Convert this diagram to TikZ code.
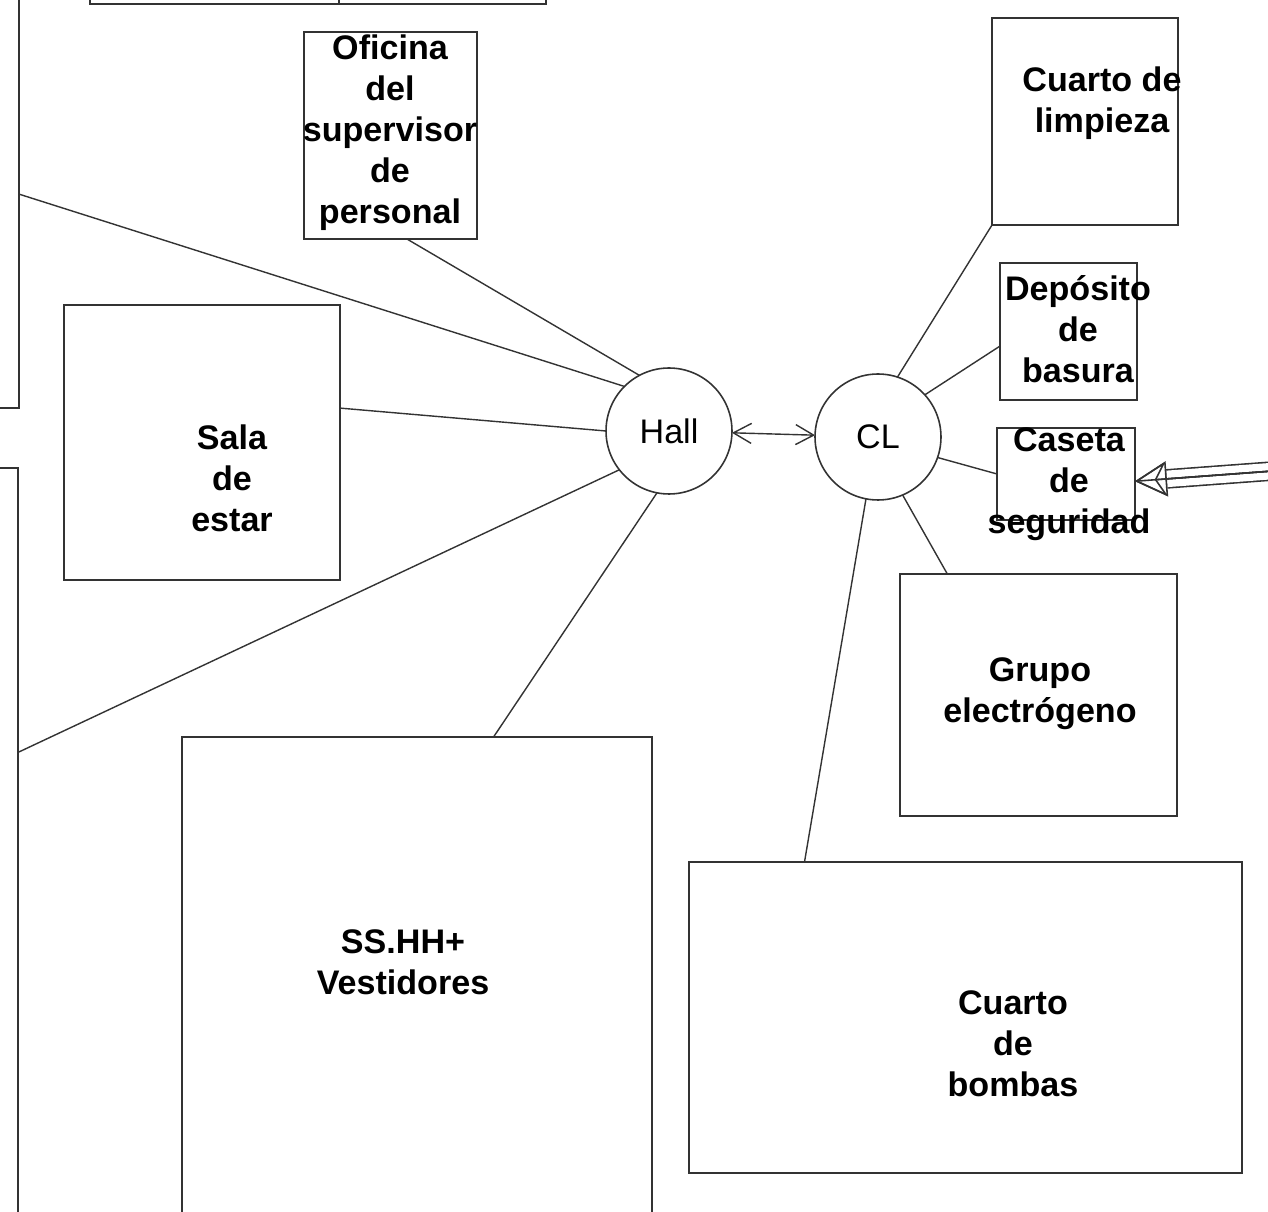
\documentclass[tikz,border=0pt]{standalone}
\usepackage{fontspec}
\setmainfont{Liberation Sans}
\usetikzlibrary{arrows.meta}
\tikzset{
room/.style={draw=black!80, line width=0.9pt, inner sep=0pt, outer sep=0pt}, % every space is a plain rectangle
hub/.style={draw=black!80, line width=0.9pt, circle, minimum size=2.52cm, inner sep=0pt, outer sep=0pt, font=\fontsize{19.4}{23}\selectfont},
rotulo/.style={align=center, inner sep=0pt, font=\bfseries\fontsize{19.4}{23.3}\selectfont},
link/.style={draw=black!80, line width=0.8pt},
}

\begin{document}
\begin{tikzpicture}[x=0.02cm, y=-0.02cm]
    \useasboundingbox (0,0) rectangle (1268,1212);
    \clip (0,0) rectangle (1268,1212);

    % spaces cut by the edge of the sheet
    \node[room, minimum width=2.38cm, minimum height=10.16cm] (leftA) at (-40.5,154) {};
    \node[room, minimum width=2.36cm, minimum height=18.64cm] (leftB) at (-41,934) {};
    \node[room, line width=0.7pt, minimum width=4.98cm, minimum height=1.28cm] (tablaA) at (214.5,-28) {};
    \node[room, line width=0.7pt, minimum width=4.14cm, minimum height=1.28cm] (tablaB) at (442.5,-28) {};

    % rooms
    \node[room, minimum width=3.46cm, minimum height=4.14cm] (oficina) at (390.5,135.5) {};
    \node[room, minimum width=3.72cm, minimum height=4.14cm] (limpieza) at (1085,121.5) {};
    \node[room, minimum width=2.74cm, minimum height=2.74cm] (deposito) at (1068.5,331.5) {};
    \node[room, minimum width=2.76cm, minimum height=1.84cm] (caseta) at (1066,474) {};
    \node[room, minimum width=5.52cm, minimum height=5.50cm] (sala) at (202,442.5) {};
    \node[room, minimum width=5.54cm, minimum height=4.84cm] (grupo) at (1038.5,695) {};
    \node[room, minimum width=9.40cm, minimum height=13.26cm] (sshh) at (417,1068.5) {};
    \node[room, minimum width=11.06cm, minimum height=6.22cm] (bombas) at (965.5,1017.5) {};

    \node[rotulo] at (390,133) {Oficina\\del\\supervisor\\de\\personal};
    \node[rotulo] at (1102,103) {Cuarto de\\limpieza};
    \node[rotulo] at (1078,329) {Depósito\\de\\basura};
    \node[rotulo] at (1069,484) {Caseta\\de\\seguridad};
    \node[rotulo] at (232,478) {Sala\\de\\estar};
    \node[rotulo] at (1040,694) {Grupo\\electrógeno};
    \node[rotulo] at (403,962) {SS.HH+\\Vestidores};
    \node[rotulo] at (1013,1044) {Cuarto\\de\\bombas};

    % circulation
    \node[hub] (hall) at (669,431) {Hall};
    \node[hub] (cl) at (878,437) {CL};

    \draw[link, <->, >={Straight Barb[length=0.36cm, width=0.4cm]}] (hall) -- (cl);

    \draw[link] (leftA.-34.6) -- (hall.135);
    \draw[link] (oficina.-81) -- (hall.118);
    \draw[link] (sala.14.4) -- (hall.180);
    \draw[link] (leftB.72) -- (hall.218);
    \draw[link] (sshh.77.3) -- (hall.259);

    \draw[link] (limpieza.south west) -- (cl.72);
    \draw[link] (deposito.192.7) -- (cl.42);
    \draw[link] (caseta.west) -- (cl.-19.5);
    \draw[link] (grupo.127) -- (cl.-67);
    \draw[link] (bombas.136) -- (cl.259);

    % main entrance
    \coordinate (acceso) at (1300,469);
    \draw[link, line width=0.9pt, double distance=0.33cm, shorten >=0.64cm] (acceso) -- (caseta.-6);
    \draw[link, line width=0.9pt] (acceso) -- (caseta.-6);
    \draw[link, line width=0.9pt, -{Triangle[open, length=0.64cm, width=0.7cm]}] (acceso) -- (caseta.-6);
    \draw[link, line width=0.9pt, -{Stealth[open, length=0.64cm, width=0.7cm]}] (acceso) -- (caseta.-6);
\end{tikzpicture}
\end{document}
